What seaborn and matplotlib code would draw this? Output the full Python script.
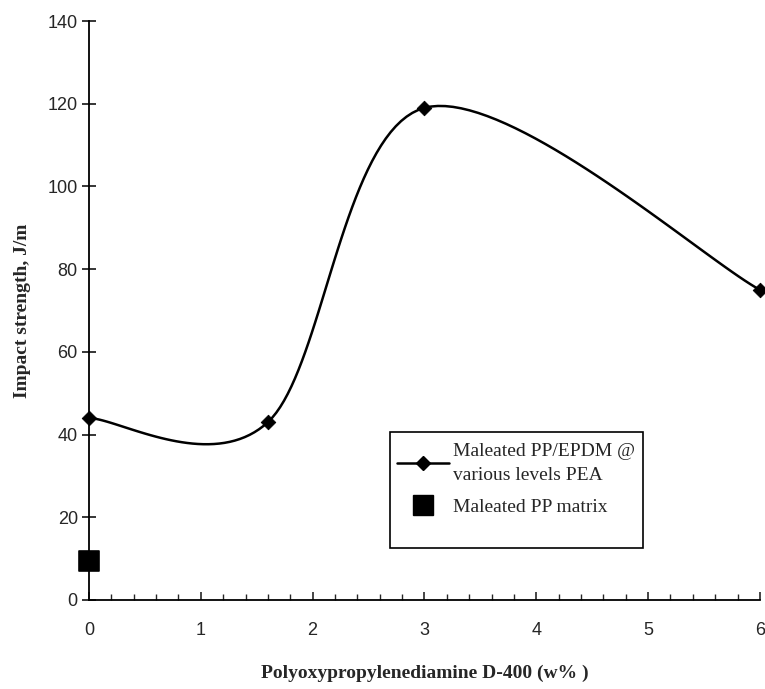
import numpy as np
import pandas as pd
import seaborn as sns
import matplotlib.pyplot as plt
from matplotlib.lines import Line2D
from matplotlib.patches import Rectangle
from matplotlib.ticker import MultipleLocator

# data
pea = [0, 1.6, 3, 6]
impact = [44, 43, 119, 75]
matrix_x = [0]
matrix_y = [9.5]
y_ticks = [0, 20, 40, 60, 80, 100, 120, 140]
x_ticks = [0, 1, 2, 3, 4, 5, 6]
lab_line = 'Maleated PP/EPDM @\nvarious levels PEA'
lab_sq = 'Maleated PP matrix'


# excel-like smoothed line (bezier through the points)
def smooth(x, y, n=40):
    p = np.column_stack([x, y]).astype(float)
    ext = np.vstack([p[0], p, p[-1]])
    xs, ys = [], []
    for i in range(len(p) - 1):
        p0, p1, p2, p3 = ext[i], ext[i + 1], ext[i + 2], ext[i + 3]
        c1 = p1 + (p2 - p0) / 6
        c2 = p2 - (p3 - p1) / 6
        t = np.linspace(0, 1, n)[:, None]
        b = (1 - t) ** 3 * p1 + 3 * t * (1 - t) ** 2 * c1 + 3 * t ** 2 * (1 - t) * c2 + t ** 3 * p2
        xs.extend(b[:, 0]); ys.extend(b[:, 1])
    return np.array(xs), np.array(ys)


sx, sy = smooth(pea, impact)
curve = pd.DataFrame({'x': sx, 'y': sy})
pts = pd.DataFrame({'x': pea, 'y': impact})
mat = pd.DataFrame({'x': matrix_x, 'y': matrix_y})

sns.set_style('white')
plt.rcParams['font.family'] = ['Liberation Sans', 'DejaVu Sans']
serif = ['Liberation Serif', 'DejaVu Serif']

fig = plt.figure(figsize=(7.65, 6.89), dpi=100)
ax = fig.add_axes([0.1163, 0.1292, 0.877, 0.8403])

sns.lineplot(data=curve, x='x', y='y', sort=False, color='black', linewidth=1.8, ax=ax)
sns.scatterplot(data=pts, x='x', y='y', marker='D', s=55, color='black', edgecolor='black',
                zorder=5, clip_on=False, ax=ax)
sns.scatterplot(data=mat, x='x', y='y', marker='s', s=220, color='black', edgecolor='black',
                zorder=5, clip_on=False, ax=ax)

ax.set_xlim(0, 6)
ax.set_ylim(0, 140)
ax.set_xticks(x_ticks)
ax.set_yticks(y_ticks)
ax.xaxis.set_minor_locator(MultipleLocator(0.2))
for s in ['top', 'right']:
    ax.spines[s].set_visible(False)
for s in ['left', 'bottom']:
    ax.spines[s].set_color('black')
    ax.spines[s].set_linewidth(1.3)
ax.tick_params(axis='y', which='major', direction='inout', length=10, width=1.3,
               labelsize=13, pad=3, left=True)
ax.tick_params(axis='x', which='major', direction='in', length=6, width=1.2,
               labelsize=13, pad=16, bottom=True)
ax.tick_params(axis='x', which='minor', direction='in', length=4, width=1, bottom=True)

ax.set_xlabel('Polyoxypropylenediamine D-400 (w% )', fontsize=14, fontweight='bold',
              family=serif, labelpad=18)
ax.set_ylabel('Impact strength, J/m', fontsize=14, fontweight='bold',
              family=serif, labelpad=12)

# legend frame drawn as a box, entries placed inside
ax.add_patch(Rectangle((0.4486, 0.0898), 0.377, 0.2004, transform=ax.transAxes,
                       fill=False, edgecolor='black', linewidth=1.2, zorder=6, clip_on=False))
handles = [Line2D([0], [0], color='black', lw=1.8, marker='D', markersize=7),
           Line2D([0], [0], color='black', lw=0, marker='s', markersize=14)]
leg = ax.legend(handles, [lab_line, lab_sq], loc='upper left', bbox_to_anchor=(0.459, 0.272),
                frameon=False, handlelength=2.7, handletextpad=0.2, borderpad=0,
                borderaxespad=0, labelspacing=0.75, prop={'family': serif, 'size': 14})
for t in leg.get_texts():
    t.set_linespacing(1.55)

plt.savefig('out.png', dpi=100)
